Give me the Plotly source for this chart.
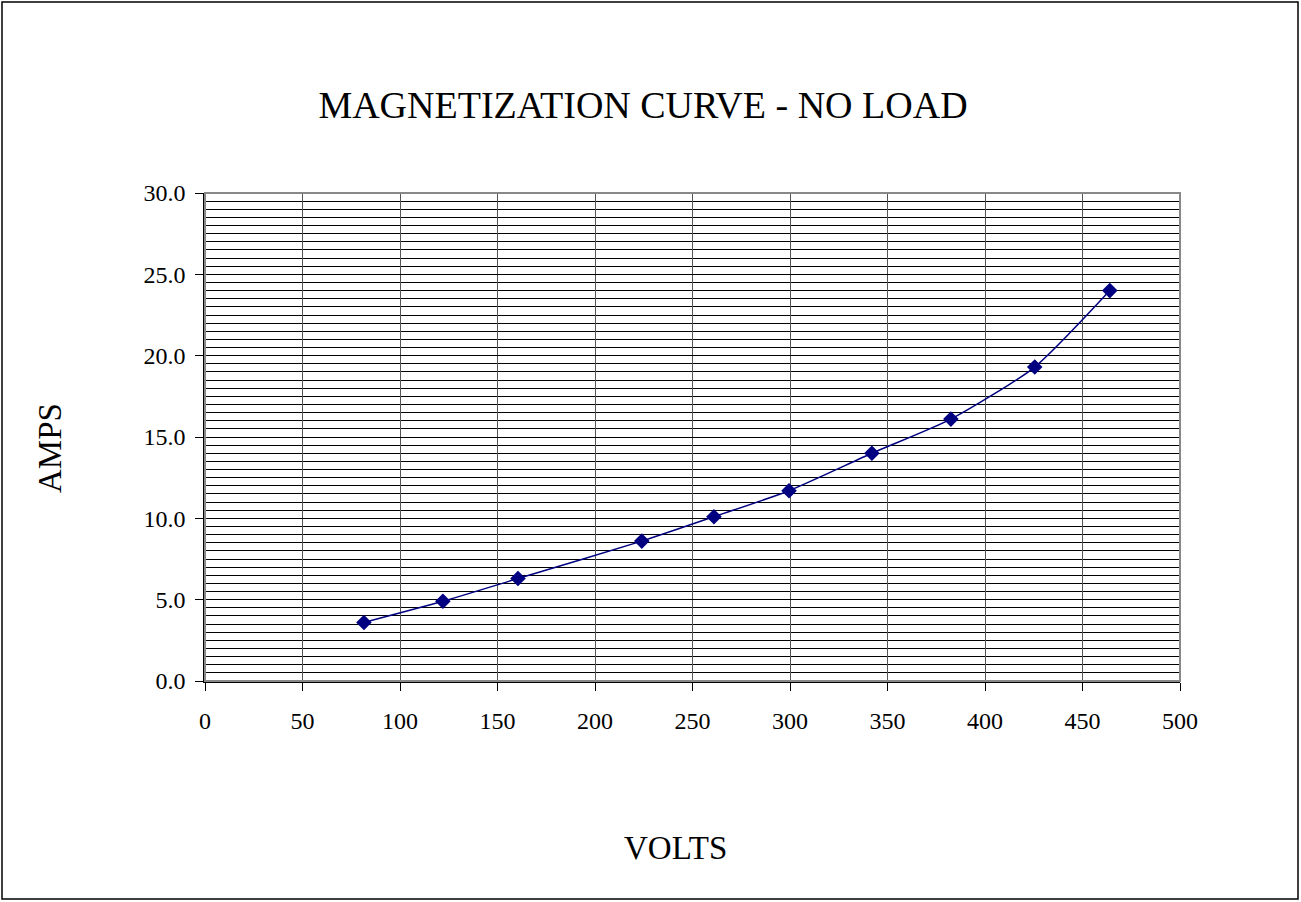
import plotly.graph_objects as go

volts = [81.5, 122, 160.5, 224, 261, 299.5, 342, 382.5, 425.5, 464]
amps = [3.6, 4.9, 6.3, 8.6, 10.1, 11.7, 14.0, 16.1, 19.3, 24.0]

title_text = "MAGNETIZATION CURVE - NO LOAD"
x_title = "VOLTS"
y_title = "AMPS"

W, H = 1301, 902
L, R, T, B = 205, 121, 193, 221
pw, ph = W - L - R, H - T - B

fig = go.Figure()
fig.add_trace(go.Scatter(
    x=volts, y=amps, mode="lines+markers",
    line=dict(color="#000080", width=1.5, shape="spline", smoothing=0.6),
    marker=dict(symbol="diamond", size=12, color="#000080"),
    showlegend=False,
))

font = "Liberation Serif, DejaVu Serif, serif"

fig.update_layout(
    width=W, height=H,
    margin=dict(l=L, r=R, t=T, b=B),
    paper_bgcolor="white", plot_bgcolor="white",
    title=dict(text=title_text, x=643 / W, xanchor="center", y=(H - 105) / H, yanchor="middle",
               font=dict(family=font, size=38, color="black")),
    font=dict(family=font, color="black"),
    xaxis=dict(
        range=[0, 500], dtick=50, tick0=0,
        showgrid=True, gridcolor="#555555", gridwidth=1,
        showline=True, linecolor="black", linewidth=1.5,
        ticks="outside", ticklen=8, tickcolor="black",
        ticklabelstandoff=9,
        tickfont=dict(size=24, family=font),
        zeroline=False,
    ),
    yaxis=dict(
        range=[0, 30], dtick=5, tick0=0, tickformat=".1f",
        showgrid=True, gridcolor="black", gridwidth=1,
        minor=dict(dtick=0.5, showgrid=True, gridcolor="black", gridwidth=1),
        showline=True, linecolor="black", linewidth=1.5,
        ticks="outside", ticklen=8, tickcolor="black",
        ticklabelstandoff=5,
        tickfont=dict(size=24, family=font),
        zeroline=False,
    ),
    annotations=[
        dict(text=x_title, xref="paper", yref="paper",
             x=(675 - L) / pw, y=-(848 - T - ph) / ph,
             xanchor="center", yanchor="middle", showarrow=False,
             font=dict(size=33, family=font, color="black")),
        dict(text=y_title, xref="paper", yref="paper", textangle=-90,
             x=(50 - L) / pw, y=1 - (448 - T) / ph,
             xanchor="center", yanchor="middle", showarrow=False,
             font=dict(size=33, family=font, color="black")),
    ],
    shapes=[
        dict(type="rect", xref="paper", yref="paper", x0=0, x1=1, y0=0, y1=1,
             line=dict(color="#888888", width=2), layer="above"),
        dict(type="rect", xref="paper", yref="paper",
             x0=(2 - L) / pw, x1=(W - 3 - L) / pw,
             y0=-(H - 3 - T - ph) / ph, y1=1 + (T - 2) / ph,
             line=dict(color="black", width=1.5)),
    ],
)

fig.write_html("out.html", config={"displayModeBar": False},
               post_script="document.body.style.margin='0';document.body.style.overflow='hidden';")
